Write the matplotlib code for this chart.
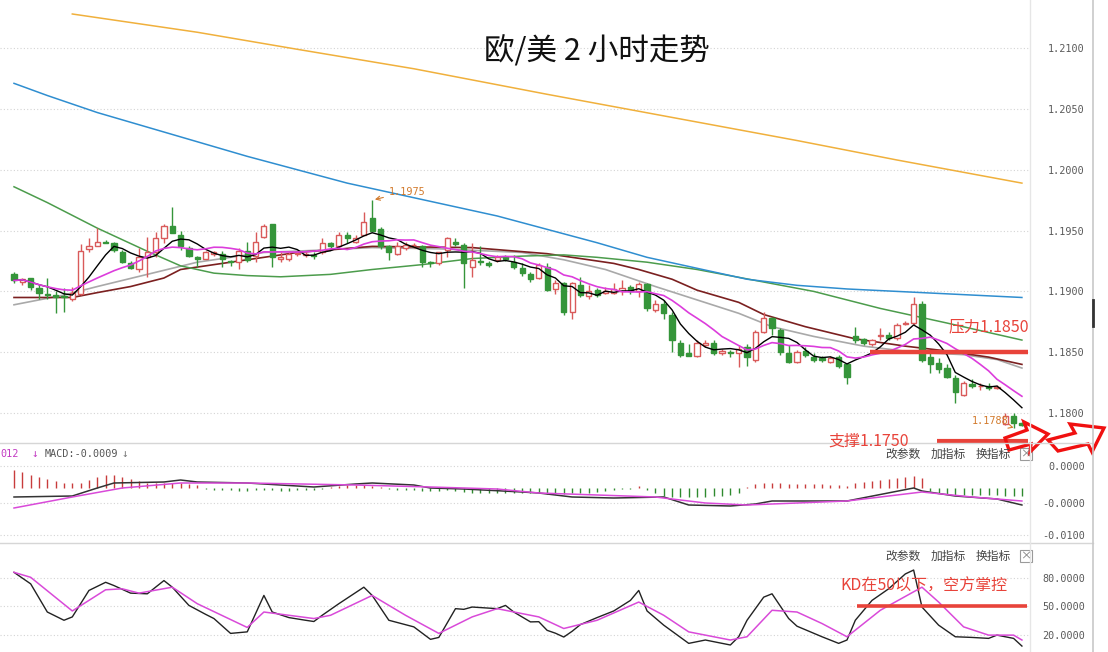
"""
EUR/USD 2h chart: candles + moving averages, MACD and KD panels
"""
# ###
# 1.Import packages
# ###
import matplotlib
matplotlib.use('Agg')
import matplotlib.pyplot as plt
import numpy             as np
import pandas            as pd
from matplotlib.patches import Polygon, Rectangle

plt.rcParams['font.family'] = ['Noto Sans CJK SC', 'DejaVu Sans']

# ###
# 2.Data
# ###
OPEN  = [1.1914, 1.1908, 1.1911, 1.1903, 1.1898, 1.1897, 1.1896, 1.1894, 1.1898, 1.1935,
         1.1937, 1.1941, 1.1940, 1.1932, 1.1923, 1.1918, 1.1928, 1.1932, 1.1944, 1.1954,
         1.1946, 1.1936, 1.1928, 1.1927, 1.1931, 1.1931, 1.1925, 1.1924, 1.1933, 1.1929,
         1.1945, 1.1955, 1.1927, 1.1927, 1.1931, 1.1930, 1.1930, 1.1932, 1.1940, 1.1937,
         1.1946, 1.1941, 1.1946, 1.1960, 1.1951, 1.1937, 1.1931, 1.1936, 1.1938, 1.1937,
         1.1924, 1.1923, 1.1934, 1.1941, 1.1938, 1.1920, 1.1925, 1.1923, 1.1926, 1.1928,
         1.1924, 1.1919, 1.1914, 1.1911, 1.1920, 1.1902, 1.1907, 1.1883, 1.1905, 1.1896,
         1.1901, 1.1899, 1.1899, 1.1900, 1.1904, 1.1900, 1.1906, 1.1885, 1.1890, 1.1881,
         1.1858, 1.1849, 1.1847, 1.1856, 1.1858, 1.1849, 1.1850, 1.1849, 1.1854, 1.1844,
         1.1867, 1.1878, 1.1868, 1.1849, 1.1842, 1.1851, 1.1846, 1.1845, 1.1842, 1.1846,
         1.1840, 1.1863, 1.1861, 1.1857, 1.1863, 1.1864, 1.1862, 1.1873, 1.1874, 1.1890,
         1.1846, 1.1841, 1.1837, 1.1829, 1.1815, 1.1824, 1.1822, 1.1822, 1.1821, 1.1791,
         1.1798, 1.1792]
HIGH  = [1.1916, 1.1911, 1.1911, 1.1905, 1.1911, 1.1900, 1.1903, 1.1904, 1.1939, 1.1944,
         1.1952, 1.1942, 1.1941, 1.1934, 1.1925, 1.1936, 1.1945, 1.1949, 1.1955, 1.1969,
         1.1950, 1.1937, 1.1929, 1.1933, 1.1933, 1.1933, 1.1926, 1.1936, 1.1941, 1.1949,
         1.1955, 1.1955, 1.1932, 1.1932, 1.1933, 1.1932, 1.1932, 1.1944, 1.1941, 1.1949,
         1.1949, 1.1946, 1.1965, 1.1975, 1.1953, 1.1938, 1.1941, 1.1941, 1.1940, 1.1938,
         1.1925, 1.1932, 1.1945, 1.1944, 1.1940, 1.1940, 1.1937, 1.1925, 1.1930, 1.1930,
         1.1930, 1.1923, 1.1916, 1.1923, 1.1923, 1.1909, 1.1908, 1.1908, 1.1912, 1.1905,
         1.1903, 1.1904, 1.1907, 1.1909, 1.1905, 1.1908, 1.1907, 1.1893, 1.1893, 1.1883,
         1.1860, 1.1857, 1.1860, 1.1860, 1.1860, 1.1853, 1.1852, 1.1856, 1.1857, 1.1868,
         1.1883, 1.1879, 1.1870, 1.1856, 1.1852, 1.1854, 1.1849, 1.1847, 1.1847, 1.1848,
         1.1841, 1.1871, 1.1862, 1.1861, 1.1870, 1.1867, 1.1874, 1.1876, 1.1895, 1.1892,
         1.1850, 1.1845, 1.1840, 1.1831, 1.1826, 1.1828, 1.1825, 1.1825, 1.1823, 1.1800,
         1.1800, 1.1793]
LOW   = [1.1907, 1.1905, 1.1901, 1.1894, 1.1894, 1.1882, 1.1883, 1.1892, 1.1897, 1.1932,
         1.1937, 1.1940, 1.1932, 1.1923, 1.1918, 1.1916, 1.1912, 1.1928, 1.1940, 1.1948,
         1.1934, 1.1928, 1.1920, 1.1927, 1.1929, 1.1920, 1.1921, 1.1918, 1.1924, 1.1924,
         1.1944, 1.1920, 1.1924, 1.1925, 1.1929, 1.1928, 1.1927, 1.1931, 1.1936, 1.1936,
         1.1940, 1.1940, 1.1946, 1.1949, 1.1935, 1.1926, 1.1930, 1.1934, 1.1936, 1.1920,
         1.1920, 1.1922, 1.1928, 1.1937, 1.1903, 1.1912, 1.1922, 1.1920, 1.1924, 1.1925,
         1.1918, 1.1913, 1.1908, 1.1910, 1.1900, 1.1898, 1.1881, 1.1877, 1.1895, 1.1894,
         1.1895, 1.1898, 1.1898, 1.1897, 1.1898, 1.1895, 1.1884, 1.1883, 1.1877, 1.1850,
         1.1846, 1.1847, 1.1846, 1.1854, 1.1848, 1.1848, 1.1846, 1.1838, 1.1839, 1.1842,
         1.1866, 1.1864, 1.1848, 1.1841, 1.1841, 1.1846, 1.1842, 1.1842, 1.1841, 1.1837,
         1.1824, 1.1858, 1.1856, 1.1855, 1.1860, 1.1860, 1.1860, 1.1872, 1.1872, 1.1842,
         1.1833, 1.1833, 1.1829, 1.1808, 1.1814, 1.1821, 1.1819, 1.1819, 1.1820, 1.1790,
         1.1788, 1.1789]
CLOSE = [1.1909, 1.1910, 1.1904, 1.1899, 1.1897, 1.1895, 1.1895, 1.1899, 1.1933, 1.1937,
         1.1941, 1.1940, 1.1934, 1.1924, 1.1919, 1.1928, 1.1932, 1.1944, 1.1954, 1.1948,
         1.1937, 1.1929, 1.1927, 1.1932, 1.1932, 1.1927, 1.1924, 1.1933, 1.1926, 1.1941,
         1.1954, 1.1928, 1.1928, 1.1931, 1.1931, 1.1930, 1.1929, 1.1940, 1.1937, 1.1946,
         1.1944, 1.1944, 1.1957, 1.1950, 1.1937, 1.1932, 1.1937, 1.1938, 1.1938, 1.1924,
         1.1923, 1.1932, 1.1944, 1.1939, 1.1923, 1.1926, 1.1924, 1.1922, 1.1928, 1.1927,
         1.1920, 1.1915, 1.1910, 1.1922, 1.1901, 1.1907, 1.1883, 1.1907, 1.1897, 1.1900,
         1.1897, 1.1900, 1.1902, 1.1903, 1.1900, 1.1906, 1.1886, 1.1890, 1.1882, 1.1860,
         1.1848, 1.1847, 1.1858, 1.1858, 1.1849, 1.1851, 1.1849, 1.1853, 1.1846, 1.1867,
         1.1878, 1.1870, 1.1850, 1.1842, 1.1850, 1.1848, 1.1844, 1.1844, 1.1845, 1.1839,
         1.1830, 1.1860, 1.1858, 1.1860, 1.1864, 1.1862, 1.1872, 1.1874, 1.1890, 1.1844,
         1.1840, 1.1836, 1.1830, 1.1817, 1.1825, 1.1822, 1.1822, 1.1821, 1.1821, 1.1798,
         1.1792, 1.1790]

# Longer moving averages: (candle index, value)
MA_GRAY_IDX    = [0, 3, 6, 10, 16, 22, 30, 37, 43, 51, 61, 66, 71, 77, 82, 87, 91, 96, 102,
                  108, 114, 118, 121]
MA_GRAY_VAL    = [1.1889, 1.1893, 1.1897, 1.1904, 1.1914, 1.1924, 1.1932, 1.1934, 1.1936,
                  1.1935, 1.1932, 1.1926, 1.1918, 1.1904, 1.1893, 1.1882, 1.1871, 1.1863,
                  1.1855, 1.1850, 1.1848, 1.1844, 1.1837]
MA_MAROON_IDX  = [0, 7, 10, 14, 18, 20, 26, 34, 43, 55, 64, 72, 75, 79, 82, 87, 90, 95, 101,
                  107, 112, 117, 121]
MA_MAROON_VAL  = [1.1895, 1.1895, 1.1899, 1.1904, 1.1911, 1.1918, 1.1924, 1.1932, 1.1937,
                  1.1936, 1.1931, 1.1923, 1.1918, 1.1910, 1.1901, 1.1891, 1.1881, 1.1871,
                  1.1861, 1.1855, 1.1851, 1.1846, 1.1840]
MA_GREEN_IDX   = [0, 4, 10, 16, 20, 24, 28, 32, 38, 43, 49, 55, 61, 66, 70, 76, 82, 89, 96,
                  104, 112, 121]
MA_GREEN_VAL   = [1.1986, 1.1973, 1.1952, 1.1933, 1.1921, 1.1915, 1.1913, 1.1912, 1.1914,
                  1.1918, 1.1922, 1.1927, 1.1929, 1.1930, 1.1928, 1.1924, 1.1918, 1.1909,
                  1.1900, 1.1886, 1.1874, 1.1860]
MA_BLUE_IDX    = [0, 4, 10, 16, 22, 28, 34, 40, 46, 52, 58, 64, 70, 76, 82, 88, 94, 100, 106,
                  112, 121]
MA_BLUE_VAL    = [1.2071, 1.2061, 1.2047, 1.2035, 1.2023, 1.2011, 1.2000, 1.1989, 1.1980,
                  1.1971, 1.1962, 1.1951, 1.1940, 1.1928, 1.1919, 1.1910, 1.1905, 1.1902,
                  1.1900, 1.1898, 1.1895]
MA_ORANGE_IDX  = [7, 22, 34, 48, 64, 79, 94, 106, 121]
MA_ORANGE_VAL  = [1.2128, 1.2113, 1.2099, 1.2083, 1.2062, 1.2043, 1.2024, 1.2008, 1.1989]

# MACD (units of 1e-4)
MACD_HIST = [18, 16, 13, 11, 9, 7, 5, 5, 5, 8, 11, 13, 13, 11, 9, 7, 5, 5, 5, 5, 5, 4, 3,
             -1, -2, -2, -2, -3, -3, -2, -2, -2, -3, -3, -2, -2, -2, -1, 1,
             2, 3, 3, 3, 2,
             1, -1, -2, -2, -2, -3, -3, -3, -2, -3,
             -4, -5, -5, -5, -5, -5, -5, -5, -5, -5, -6, -6, -6, -5, -5,
             -5, -4, -3, -2, -1, -1, 2, -2, -5,
             -8, -9, -9, -9, -9, -9, -8, -8, -7, -5,
             1, 4, 5, 5, 5, 4, 4, 4, 4, 4, 3, 3, 2,
             5, 6, 7, 8, 9, 10, 11, 12, 10,
             -3, -5, -6, -7, -7, -7, -7, -7, -7, -8, -8, -8]
MACD_HIST = [h * 0.5 for h in MACD_HIST]
DIF_IDX = [0, 7, 10, 12, 18, 20, 22, 28, 36, 41, 43, 48, 50, 54, 61, 63, 67, 72, 78, 81,
           86, 89, 91, 100, 108, 109, 113, 118, 121]
DIF_VAL = [-4.5, -4.0, 0.0, 2.5, 3.0, 4.0, 3.0, 2.5, 0.5, 2.0, 2.5, 1.5, 0.0, -0.5, -2.0,
           -2.5, -4.5, -5.0, -4.5, -8.5, -9.0, -8.0, -6.5, -6.5, 0.0, -1.5, -4.0, -5.5, -8.5]
DEA_IDX = [0, 7, 13, 20, 28, 41, 50, 58, 63, 77, 83, 88, 100, 109, 115, 121]
DEA_VAL = [-10.0, -4.5, 0.0, 2.5, 2.5, 1.5, 0.5, -0.5, -2.5, -4.5, -7.5, -8.5, -6.5, -2.0,
           -4.5, -6.5]

# KD
K_IDX = [0, 2, 4, 6, 7, 9, 11, 12, 14, 16, 18, 19, 21, 23, 24, 26, 28, 30, 31, 33, 35, 36,
         37, 39, 42, 43, 45, 48, 50, 51, 53, 54, 55, 58, 59, 60, 62, 63, 64, 65, 66, 67, 68,
         70, 72, 74, 75, 76, 78, 81, 83, 86, 87, 88, 90, 91, 93, 94, 97, 99, 100, 101, 103,
         105, 107, 108, 109, 111, 113, 115, 117, 118, 120, 121]
K_VAL = [85.5, 73.5, 44.1, 35.5, 39.0, 66.6, 75.1, 71.7, 63.8, 63.1, 76.9, 70.0, 51.0, 41.7,
         37.3, 21.8, 23.4, 61.4, 44.1, 38.3, 35.5, 34.2, 40.7, 52.8, 70.0, 61.4, 35.5, 28.6,
         15.6, 17.6, 47.6, 46.9, 49.3, 47.6, 51.0, 44.1, 33.8, 34.0, 25.0, 22.0, 18.0, 24.0,
         31.0, 38.3, 45.2, 56.2, 66.6, 45.2, 30.4, 11.4, 14.9, 9.7, 18.3, 35.5, 59.6, 63.1,
         37.3, 29.3, 18.3, 11.4, 14.9, 35.5, 56.2, 68.3, 83.8, 87.9, 49.3, 30.4, 18.3, 17.6,
         16.6, 20.0, 16.6, 8.6]
D_IDX = [0, 2, 7, 11, 13, 15, 19, 22, 28, 30, 36, 38, 43, 47, 51, 55, 58, 63, 66, 70, 75,
         78, 81, 86, 88, 91, 94, 97, 100, 104, 109, 111, 114, 117, 120, 121]
D_VAL = [85.5, 80.3, 45.2, 67.3, 68.3, 63.8, 70.0, 52.8, 28.0, 44.1, 37.3, 40.7, 61.4, 40.7,
         21.8, 39.0, 47.6, 39.0, 26.9, 35.5, 54.5, 40.7, 23.4, 14.9, 18.3, 45.9, 44.1, 32.1,
         18.3, 45.9, 70.0, 54.5, 28.6, 20.0, 20.0, 14.9]

# Axis ticks
PRICE_TICKS       = [1.18, 1.185, 1.19, 1.195, 1.20, 1.205, 1.21]
PRICE_TICK_LABELS = ['1.1800', '1.1850', '1.1900', '1.1950', '1.2000', '1.2050', '1.2100']
MACD_TICKS        = [11.0, -7.5, -23.5]
MACD_TICK_LABELS  = ['0.0000', '-0.0000', '-0.0100']
KD_TICKS          = [80, 50, 20]
KD_TICK_LABELS    = ['80.0000', '50.0000', '20.0000']

# Annotations
TITLE         = '欧/美 2 小时走势'
RESIST_TEXT   = '压力1.1850'
RESIST_LEVEL  = 1.1850
SUPPORT_TEXT  = '支撑1.1750'
SUPPORT_DRAW  = 1.1777
KD_TEXT       = 'KD在50以下，空方掌控'
KD_LEVEL      = 50
HIGH_MARK     = (43, 1.1975)
LOW_MARK      = (120, 1.1788)

# ###
# 3.Style
# ###
W, H      = 1108, 652
RED       = '#d95a5a'
GREEN     = '#35953a'
NOTE_RED  = '#e8433a'
NOTE_ORG  = '#d27a2c'
GRID      = '#d4d4d4'
LABEL     = '#5a5a5a'
MONO      = 'DejaVu Sans Mono'


def fig_rect(x0, y0, x1, y1):
    return [x0 / W, 1 - y1 / H, (x1 - x0) / W, (y1 - y0) / H]


def style_panel(ax, ticks, labels, ylim):
    ax.set_xlim(-1.68, 121.97)
    ax.set_ylim(*ylim)
    for s in ax.spines.values():
        s.set_visible(False)
    ax.set_xticks([])
    ax.yaxis.tick_right()
    ax.set_yticks(ticks)
    ax.set_yticklabels(labels)
    ax.tick_params(axis='y', length=0, pad=39.6, labelsize=7.3, labelcolor=LABEL)
    for t in ax.get_yticklabels():
        t.set_family(MONO)
        t.set_horizontalalignment('right')
    ax.grid(axis='y', color=GRID, linestyle=(0, (1, 2)), linewidth=0.8)
    ax.set_axisbelow(True)


fig = plt.figure(figsize=(W / 100, H / 100), dpi=100, facecolor='w')

# ###
# 4.Price panel
# ###
ax = fig.add_axes(fig_rect(0, 0, 1030, 443))
style_panel(ax, PRICE_TICKS, PRICE_TICK_LABELS, (1.17754, 1.21395))

o = np.array(OPEN); h = np.array(HIGH); l = np.array(LOW); c = np.array(CLOSE)
x = np.arange(len(c))
up = c >= o
col = np.where(up, RED, GREEN)
ax.vlines(x, l, h, colors=col, linewidth=1, zorder=3)
lo = np.minimum(o, c)
ht = np.maximum(np.abs(c - o), 0.00004)
ax.bar(x, ht, bottom=lo, width=0.62, color=np.where(up, 'white', GREEN),
       edgecolor=col, linewidth=1, zorder=4)

close_s = pd.Series(c)
ax.plot(x, close_s.rolling(5, min_periods=1).mean(), color='black', lw=1, zorder=5)
ax.plot(x, close_s.rolling(10, min_periods=1).mean(), color='#dc3ddc', lw=1.2, zorder=5)
ax.plot(MA_GRAY_IDX, MA_GRAY_VAL, color='#a9a9a9', lw=1.2, zorder=2)
ax.plot(MA_MAROON_IDX, MA_MAROON_VAL, color='#7b2020', lw=1.2, zorder=2)
ax.plot(MA_GREEN_IDX, MA_GREEN_VAL, color='#4c9c4c', lw=1.1, zorder=2)
ax.plot(MA_BLUE_IDX, MA_BLUE_VAL, color='#2f8ed0', lw=1.1, zorder=2)
ax.plot(MA_ORANGE_IDX, MA_ORANGE_VAL, color='#f0b03c', lw=1.1, zorder=2)

ax.annotate('1.1975', xy=HIGH_MARK, xytext=(HIGH_MARK[0] + 2.0, HIGH_MARK[1] + 0.0007),
            fontsize=7.3, family=MONO, color=NOTE_ORG, va='center', ha='left',
            arrowprops=dict(arrowstyle='->', color=NOTE_ORG, lw=0.8), zorder=6)
ax.annotate('1.1788', xy=LOW_MARK, xytext=(LOW_MARK[0] - 0.6, LOW_MARK[1] + 0.00055),
            fontsize=7.3, family=MONO, color=NOTE_ORG, va='center', ha='right',
            arrowprops=dict(arrowstyle='->', color=NOTE_ORG, lw=0.8), zorder=6)

ax.hlines(RESIST_LEVEL, 102.8, 121.7, color=NOTE_RED, lw=3.2, zorder=6)
ax.hlines(SUPPORT_DRAW, 110.8, 121.7, color=NOTE_RED, lw=3.0, zorder=6)

# ###
# 5.MACD panel
# ###
ax_m = fig.add_axes(fig_rect(0, 443, 1030, 541))
style_panel(ax_m, MACD_TICKS, MACD_TICK_LABELS, (-26.5, 22.5))
hist = np.array(MACD_HIST)
ax_m.vlines(x, 0, hist, colors=np.where(hist >= 0, '#c83c3c', '#2f8a2f'), lw=1)
ax_m.plot(DIF_IDX, DIF_VAL, color='#333333', lw=1.1)
ax_m.plot(DEA_IDX, DEA_VAL, color='#d94ad9', lw=1.1)

# ###
# 6.KD panel
# ###
ax_k = fig.add_axes(fig_rect(0, 545, 1030, 652))
style_panel(ax_k, KD_TICKS, KD_TICK_LABELS, (2.4, 114.0))
ax_k.plot(K_IDX, K_VAL, color='#222222', lw=1)
ax_k.plot(D_IDX, D_VAL, color='#d94ad9', lw=1.1)
ax_k.hlines(KD_LEVEL, 101.2, 121.6, color=NOTE_RED, lw=2.6, zorder=6)

# ###
# 7.Overlay: frame, labels, notes (figure pixels)
# ###
ov = fig.add_axes([0, 0, 1, 1], zorder=10)
ov.set_xlim(0, W); ov.set_ylim(H, 0); ov.axis('off'); ov.patch.set_alpha(0)

ov.plot([0, 1093], [443, 443], color='#d6d6d6', lw=1)
ov.plot([0, 1093], [543, 543], color='#d6d6d6', lw=1)
ov.plot([1030, 1030], [0, 652], color='#e6e6e6', lw=1)
ov.plot([1093, 1093], [0, 652], color='#c8c8c8', lw=1.2)
ov.plot([1093, 1093], [300, 326], color='#333333', lw=2)

ov.text(597, 52, TITLE, fontsize=22, ha='center', va='center', color='#111111')
ov.text(989, 327, RESIST_TEXT, fontsize=11.5, ha='center', va='center', color=NOTE_RED)
ov.text(869, 441, SUPPORT_TEXT, fontsize=11.5, ha='center', va='center', color=NOTE_RED)
ov.text(924, 586, KD_TEXT, fontsize=11.5, ha='center', va='center', color=NOTE_RED)

ov.text(0, 454, '012', fontsize=7.3, family=MONO, color='#c23bc2', va='center')
ov.text(31, 454, '↓', fontsize=8, family=MONO, color='#c23bc2', va='center')
ov.text(45, 454, 'MACD:-0.0009', fontsize=7.3, family=MONO, color='#555555', va='center')
ov.text(121, 454, '↓', fontsize=8, family=MONO, color='#777777', va='center')

for yb in (454, 556):
    for xb, t in ((903, '改参数'), (948, '加指标'), (993, '换指标')):
        ov.text(xb, yb, t, fontsize=8.5, ha='center', va='center', color='#444444')
    ov.add_patch(Rectangle((1020, yb - 6), 12, 12, fill=False, ec='#9a9a9a', lw=0.8))
    ov.text(1026, yb, '×', fontsize=8, ha='center', va='center', color='#777777')

arrow_a = [(1005, 438), (1027, 430), (1024, 422), (1048, 434), (1030, 452), (1031, 444), (1009, 450)]
arrow_b = [(1048, 440), (1075, 433), (1070, 424), (1104, 428), (1092, 452), (1088, 444), (1058, 451)]
for pts in (arrow_a, arrow_b):
    ov.add_patch(Polygon(pts, closed=True, fill=False, ec='#f01010', lw=2.4, joinstyle='miter'))

fig.savefig('out.png', dpi=100, facecolor='w')
